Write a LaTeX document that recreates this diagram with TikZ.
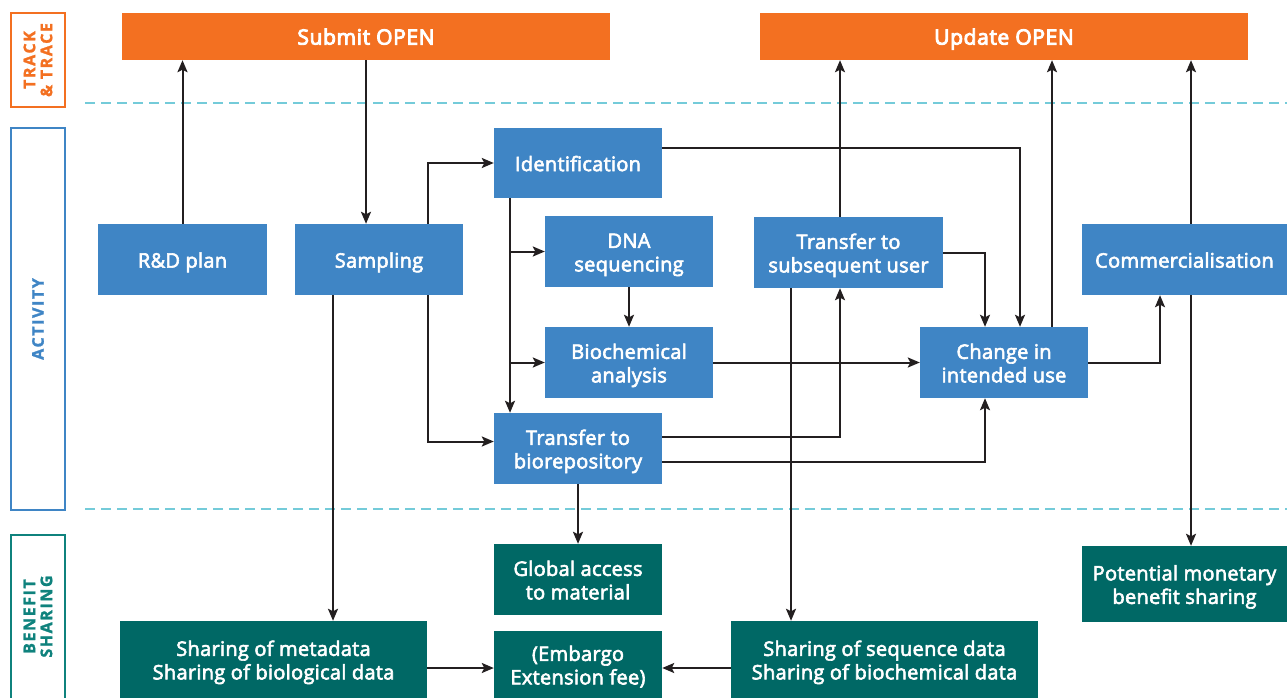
\documentclass[tikz,border=0pt]{standalone}
\usepackage{fontspec}
\setmainfont{Open Sans}
\newfontfamily\boxfont{Open Sans}[BoldFont={Open Sans}, BoldFeatures={FakeBold=3,LetterSpace=1.5}]
\newfontfamily\titlefont{Open Sans}[BoldFont={Open Sans}, BoldFeatures={FakeBold=4.5,LetterSpace=3}]
\newfontfamily\sidefont{Open Sans}[BoldFeatures={FakeBold=1.5,LetterSpace=10}]
\usetikzlibrary{arrows.meta,calc}
\definecolor{corange}{HTML}{F37021}
\definecolor{cblue}{HTML}{3F85C5}
\definecolor{cteal}{HTML}{006865}
\definecolor{cteallbl}{HTML}{0F827D}
\definecolor{cdash}{HTML}{74CBD9}
\definecolor{cline}{HTML}{231F20}
\newcommand{\bt}[1]{\begin{tabular}{@{}c@{}}\rule{0pt}{23.3pt}#1\end{tabular}}
\begin{document}
\begin{tikzpicture}[x=1pt,y=-1pt,
  box/.style={inner sep=0pt,text=white,font=\boxfont\bfseries\fontsize{20}{23.5}\selectfont},
  obox/.style={box,fill=corange,font=\titlefont\bfseries\fontsize{21}{24}\selectfont},
  bbox/.style={box,fill=cblue},
  tbox/.style={box,fill=cteal},
  side/.style={draw,line width=2.5pt,inner sep=0pt,minimum width=54pt},
  sidetext/.style={rotate=90,align=center,font=\sidefont\bfseries\fontsize{16}{17}\selectfont},
  arr/.style={draw=cline,line width=2pt,-{Stealth[length=12pt,width=10pt,inset=2.5pt]}},
  dashline/.style={draw=cdash,line width=1.8pt,dash pattern=on 10pt off 6pt}]
\useasboundingbox (0,0) rectangle (1287,698);

% side labels
\node[side,draw=corange,minimum height=94pt] (tt) at (38,60) {};
\node[sidetext,text=corange] (ttl) at (tt.center) {TRACK\\\& TRACE};
\node[side,draw=cblue,minimum height=382pt] (act) at (38,319) {};
\node[sidetext,text=cblue] (actl) at (act.center) {ACTIVITY};
\node[side,draw=cteallbl,minimum height=170pt] (bs) at (38,620) {};
\node[sidetext,text=cteallbl] (bsl) at (38,616.5) {BENEFIT\\SHARING};

% dashed separators
\draw[dashline] (85,103) -- (1287,103);
\draw[dashline] (85,509) -- (1287,509);

% top
\node[obox,minimum width=488pt,minimum height=47pt] (sub) at (366,36.5) {\bt{Submit OPEN}};
\node[obox,minimum width=488pt,minimum height=47pt] (upd) at (1004,36.5) {\bt{Update OPEN}};

% activity
\node[bbox,minimum width=169pt,minimum height=71pt] (rd) at (182.5,259.5) {\bt{R\&D plan}};
\node[bbox,minimum width=168pt,minimum height=71pt] (samp) at (379,259.5) {\bt{Sampling}};
\node[bbox,minimum width=168pt,minimum height=70pt] (ident) at (578,163) {\bt{Identification}};
\node[bbox,minimum width=168pt,minimum height=71pt] (dna) at (629,251.5) {\bt{DNA\\sequencing}};
\node[bbox,minimum width=168pt,minimum height=71pt] (bio) at (629,362.5) {\bt{Biochemical\\analysis}};
\node[bbox,minimum width=168pt,minimum height=71pt] (tbr) at (578,448.5) {\bt{Transfer to\\biorepository}};
\node[bbox,minimum width=189pt,minimum height=71pt] (tsu) at (848.5,252.5) {\bt{Transfer to\\subsequent user}};
\node[bbox,minimum width=168pt,minimum height=71pt] (chg) at (1004,362.5) {\bt{Change in\\intended use}};
\node[bbox,minimum width=205pt,minimum height=71pt] (com) at (1184.5,259.5) {\bt{Commercialisation}};

% benefit sharing
\node[tbox,minimum width=168pt,minimum height=71pt] (glob) at (578,579.5) {\bt{Global access\\to material}};
\node[tbox,minimum width=307pt,minimum height=77pt] (smeta) at (273.5,659.5) {\bt{Sharing of metadata\\Sharing of biological data}};
\node[tbox,minimum width=168pt,minimum height=67pt] (emb) at (578,664.5) {\bt{(Embargo\\Extension fee)}};
\node[tbox,minimum width=307pt,minimum height=77pt] (sseq) at (884.5,659.5) {\bt{Sharing of sequence data\\Sharing of biochemical data}};
\node[tbox,minimum width=205pt,minimum height=76pt] (pmb) at (1184.5,584) {\bt{Potential monetary\\benefit sharing}};

% connectors
\draw[arr] (rd.north) -- (rd.north |- sub.south);
\draw[arr] (sub.south) -- (sub.south |- samp.north);
\draw[arr] ([xshift=49pt]samp.north) |- (ident.west);
\draw[arr] ([xshift=49pt]samp.south) |- ([yshift=7pt]tbr.west);
\draw[arr] ([xshift=-68pt]ident.south) -- ([xshift=-68pt]tbr.north);
\draw[arr] ([xshift=-68pt]ident.south |- dna.west) -- (dna.west);
\draw[arr] ([xshift=-68pt]ident.south |- bio.west) -- (bio.west);
\draw[arr] (dna.south) -- (bio.north);
\draw[arr] (bio.east) -- (bio.east -| chg.west);
\draw[arr] ([yshift=15pt]ident.east) -| ([xshift=16pt]chg.north);
\draw[arr] (tsu.east) -| ([xshift=-19pt]chg.north);
\draw[arr] ([yshift=11.5pt]tbr.east) -| ([xshift=-8.5pt]tsu.south);
\draw[arr] ([yshift=-13.5pt]tbr.east) -| ([xshift=-19pt]chg.south);
\draw[arr] ([xshift=-8.5pt]tsu.north) -- ([xshift=-8.5pt]tsu.north |- upd.south);
\draw[arr] ([xshift=48pt]chg.north) -- ([xshift=48pt]chg.north |- upd.south);
\draw[arr] (chg.east) -| ([xshift=-24.5pt]com.south);
\draw[arr] ([xshift=6.5pt]com.north) -- ([xshift=6.5pt]com.north |- upd.south);
\draw[arr] ([xshift=6.5pt]com.south) -- ([xshift=6.5pt]com.south |- pmb.north);
\draw[arr] ([xshift=-46pt]samp.south) -- ([xshift=-46pt]samp.south |- smeta.north);
\draw[arr] (tbr.south) -- (glob.north);
\draw[arr] ([xshift=-57.5pt]tsu.south) -- ([xshift=-57.5pt]tsu.south |- sseq.north);
\draw[arr] ([yshift=-8.5pt]smeta.east) -- ([yshift=-8.5pt]smeta.east -| emb.west);
\draw[arr] ([yshift=-8.5pt]sseq.west) -- ([yshift=-8.5pt]sseq.west -| emb.east);
\end{tikzpicture}
\end{document}
